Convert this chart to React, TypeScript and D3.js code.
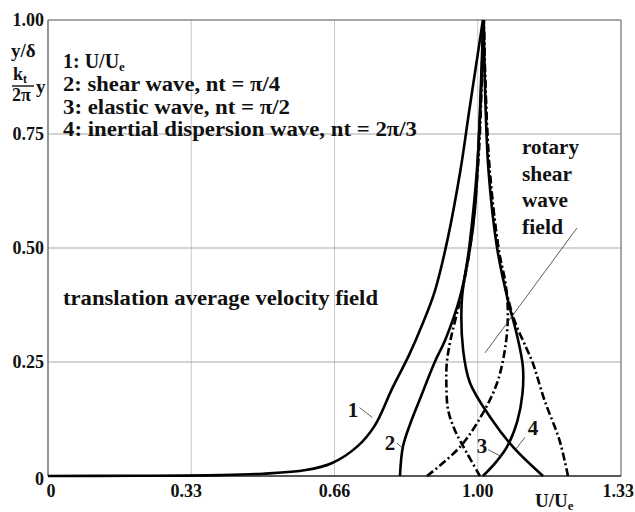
import React from "react";
import * as d3 from "d3";

// ---- data ----
const xTickValues = [0, 1 / 3, 2 / 3, 1, 4 / 3];
const xTickLabels = ["0", "0.33", "0.66", "1.00", "1.33"];
const yTickValues = [0, 0.25, 0.5, 0.75, 1];
const yTickLabels = ["0", "0.25", "0.50", "0.75", "1.00"];

// curve 1: U/Ue (x -> y)
const c1X = [0, 0.2, 0.4, 0.5, 0.6, 0.66, 0.72, 0.76, 0.8, 0.84, 0.87, 0.9, 0.93, 0.96, 0.98, 1.0, 1.012];
const c1Y = [0, 0.0005, 0.002, 0.005, 0.013, 0.028, 0.065, 0.11, 0.19, 0.265, 0.33, 0.405, 0.52, 0.672, 0.8, 0.925, 1.0];

// curve 2: shear wave (solid)
const c2Y = [0, 0.065, 0.12, 0.17, 0.25, 0.3, 0.39, 0.5, 0.58, 0.75, 0.9, 1.0];
const c2X = [0.819, 0.826, 0.845, 0.866, 0.9, 0.925, 0.958, 0.982, 0.993, 1.003, 1.009, 1.013];

// curve 3: elastic wave (solid lobe)
const c3Y = [0, 0.03, 0.064, 0.12, 0.18, 0.24, 0.31, 0.386, 0.5, 0.67, 0.85, 1.0];
const c3X = [1.012, 1.042, 1.068, 1.092, 1.104, 1.105, 1.091, 1.07, 1.045, 1.025, 1.017, 1.014];

// curve 4: inertial dispersion wave (solid)
const c4Y = [0, 0.064, 0.129, 0.204, 0.276, 0.386, 0.5, 0.67, 0.85, 1.0];
const c4X = [1.152, 1.082, 1.029, 0.982, 0.966, 0.963, 0.98, 0.998, 1.008, 1.013];

// dash-dot companions
const dAY = [0, 0.064, 0.138, 0.204, 0.276, 0.349, 0.42, 0.5, 0.67, 0.85, 1.0];
const dAX = [0.882, 0.959, 1.012, 1.045, 1.063, 1.07, 1.065, 1.048, 1.027, 1.018, 1.014];
const dBY = [0, 0.05, 0.1, 0.145, 0.2, 0.248, 0.3, 0.386, 0.5, 0.67, 0.85, 1.0];
const dBX = [1.005, 0.975, 0.947, 0.931, 0.927, 0.928, 0.937, 0.959, 0.982, 1.0, 1.009, 1.013];
const dCY = [0, 0.079, 0.167, 0.248, 0.283, 0.342, 0.42, 0.5, 0.67, 0.85, 1.0];
const dCX = [1.21, 1.19, 1.155, 1.128, 1.112, 1.085, 1.063, 1.048, 1.028, 1.018, 1.014];

const legendLines = ["2: shear wave, nt = π/4", "3: elastic wave, nt = π/2", "4: inertial dispersion wave, nt = 2π/3"];
const legendWidths = [217, 227, 354];
const rotaryWords = ["rotary", "shear", "wave", "field"];
const rotaryWidths = [57, 50, 46, 41];

const W = 635, H = 512;
const L = 48, R = 621, T = 20, B = 476;
const FONT = "Liberation Serif";

export default function App() {
  const x = d3.scaleLinear().domain([0, 4 / 3]).range([L, R]);
  const y = d3.scaleLinear().domain([0, 1]).range([B, T]);
  const lineXY = d3.line<[number, number]>().x(d => x(d[0])).y(d => y(d[1])).curve(d3.curveCatmullRom);
  const lineYX = d3.line<[number, number]>().x(d => x(d[1])).y(d => y(d[0])).curve(d3.curveCatmullRom);

  const pairs = (a: number[], b: number[]) => a.map((v, i) => [v, b[i]] as [number, number]);
  const solid = [pairs(c2Y, c2X), pairs(c3Y, c3X), pairs(c4Y, c4X)];
  const dashed = [pairs(dAY, dAX), pairs(dBY, dBX), pairs(dCY, dCX)];

  const txt = { fontWeight: 700, fill: "#111", fontFamily: FONT };
  const fit = (w: number) => ({ textLength: w, lengthAdjust: "spacingAndGlyphs" });

  const xLabelPos = (i: number) => {
    if (i === 0) return { x: x(xTickValues[i]) + 3, anchor: "middle" };
    if (i === xTickValues.length - 1) return { x: W - 1, anchor: "end" };
    return { x: x(xTickValues[i]) - (i === 1 ? 5 : 0), anchor: "middle" };
  };

  return (
    <svg width={W} height={H} fontFamily={FONT} style={{ position: "absolute", left: 0, top: 0, background: "#fff" }}>
      <rect x={0} y={0} width={W} height={H} fill="#fff" />
      {/* grid */}
      {xTickValues.slice(1, 4).map((v, i) => (
        <line key={"gx" + i} x1={x(v)} x2={x(v)} y1={T} y2={B} stroke="#c8c8c8" strokeWidth={1} />
      ))}
      {yTickValues.slice(1, 4).map((v, i) => (
        <line key={"gy" + i} x1={L} x2={R} y1={y(v)} y2={y(v)} stroke="#a8a8a8" strokeWidth={1} />
      ))}
      {/* frame */}
      <line x1={L} x2={R} y1={T} y2={T} stroke="#8a8a8a" strokeWidth={1.5} />
      <line x1={R} x2={R} y1={T} y2={B} stroke="#8a8a8a" strokeWidth={1.5} />
      <line x1={L} x2={L} y1={T} y2={B} stroke="#707070" strokeWidth={1.5} />
      <line x1={L} x2={R} y1={B} y2={B} stroke="#222" strokeWidth={1.5} />

      {/* curves */}
      <path d={lineXY(pairs(c1X, c1Y)) || ""} fill="none" stroke="#000" strokeWidth={2.6} />
      {solid.map((p, i) => (
        <path key={"s" + i} d={lineYX(p) || ""} fill="none" stroke="#000" strokeWidth={2.6} />
      ))}
      {dashed.map((p, i) => (
        <path key={"d" + i} d={lineYX(p) || ""} fill="none" stroke="#000" strokeWidth={2.6} strokeDasharray="8 3 2 3" />
      ))}

      {/* leader lines */}
      <line x1={x(0.725)} y1={y(0.15)} x2={x(0.755)} y2={y(0.128)} stroke="#333" strokeWidth={0.8} />
      <line x1={x(0.812)} y1={y(0.072)} x2={x(0.826)} y2={y(0.06)} stroke="#333" strokeWidth={0.8} />
      <line x1={x(1.024)} y1={y(0.058)} x2={x(1.056)} y2={y(0.042)} stroke="#333" strokeWidth={0.8} />
      <line x1={x(1.11)} y1={y(0.085)} x2={x(1.087)} y2={y(0.057)} stroke="#333" strokeWidth={0.8} />
      <line x1={x(1.231)} y1={y(0.544)} x2={x(1.017)} y2={y(0.27)} stroke="#333" strokeWidth={0.8} />

      {/* curve labels */}
      <text x={353} y={417} textAnchor="middle" fontSize={21} {...txt}>1</text>
      <text x={390} y={450} textAnchor="middle" fontSize={21} {...txt}>2</text>
      <text x={482} y={453} textAnchor="middle" fontSize={21} {...txt}>3</text>
      <text x={533} y={435} textAnchor="middle" fontSize={21} {...txt}>4</text>

      {/* y tick labels */}
      {yTickValues.map((v, i) => (
        <text key={"yl" + i} x={44} y={y(v) + 6 + (i === 0 ? 3 : 0)} textAnchor="end" fontSize={18} {...txt}>{yTickLabels[i]}</text>
      ))}
      {/* x tick labels */}
      {xTickValues.map((v, i) => {
        const p = xLabelPos(i);
        return (
          <text key={"xl" + i} x={p.x} y={497} textAnchor={p.anchor} fontSize={18} {...txt}>{xTickLabels[i]}</text>
        );
      })}

      {/* axis titles */}
      <text x={11} y={57} fontSize={19} {...txt}>y/δ</text>
      <text x={13} y={80} fontSize={18} {...txt}>k<tspan dy={3} fontSize={12}>t</tspan></text>
      <line x1={12} x2={34} y1={86} y2={86} stroke="#111" strokeWidth={1.4} />
      <text x={12} y={101} fontSize={18} {...txt}>2π</text>
      <text x={36} y={93} fontSize={19} {...txt}>y</text>
      <text x={535} y={507} fontSize={19} {...txt}>U/U<tspan dy={3} fontSize={13}>e</tspan></text>

      {/* legend */}
      <text x={63} y={68} fontSize={20} {...txt}>1: U/U<tspan dy={3} fontSize={13}>e</tspan></text>
      {legendLines.map((s, i) => (
        <text key={"lg" + i} x={63} y={91 + i * 22.5} fontSize={20} {...txt} {...fit(legendWidths[i])}>{s}</text>
      ))}

      {/* annotations */}
      <text x={63} y={305} fontSize={20} {...txt} {...fit(315)}>translation average velocity field</text>
      {rotaryWords.map((s, i) => (
        <text key={"rs" + i} x={522} y={154 + i * 26.5} fontSize={20} {...txt} {...fit(rotaryWidths[i])}>{s}</text>
      ))}
    </svg>
  );
}
